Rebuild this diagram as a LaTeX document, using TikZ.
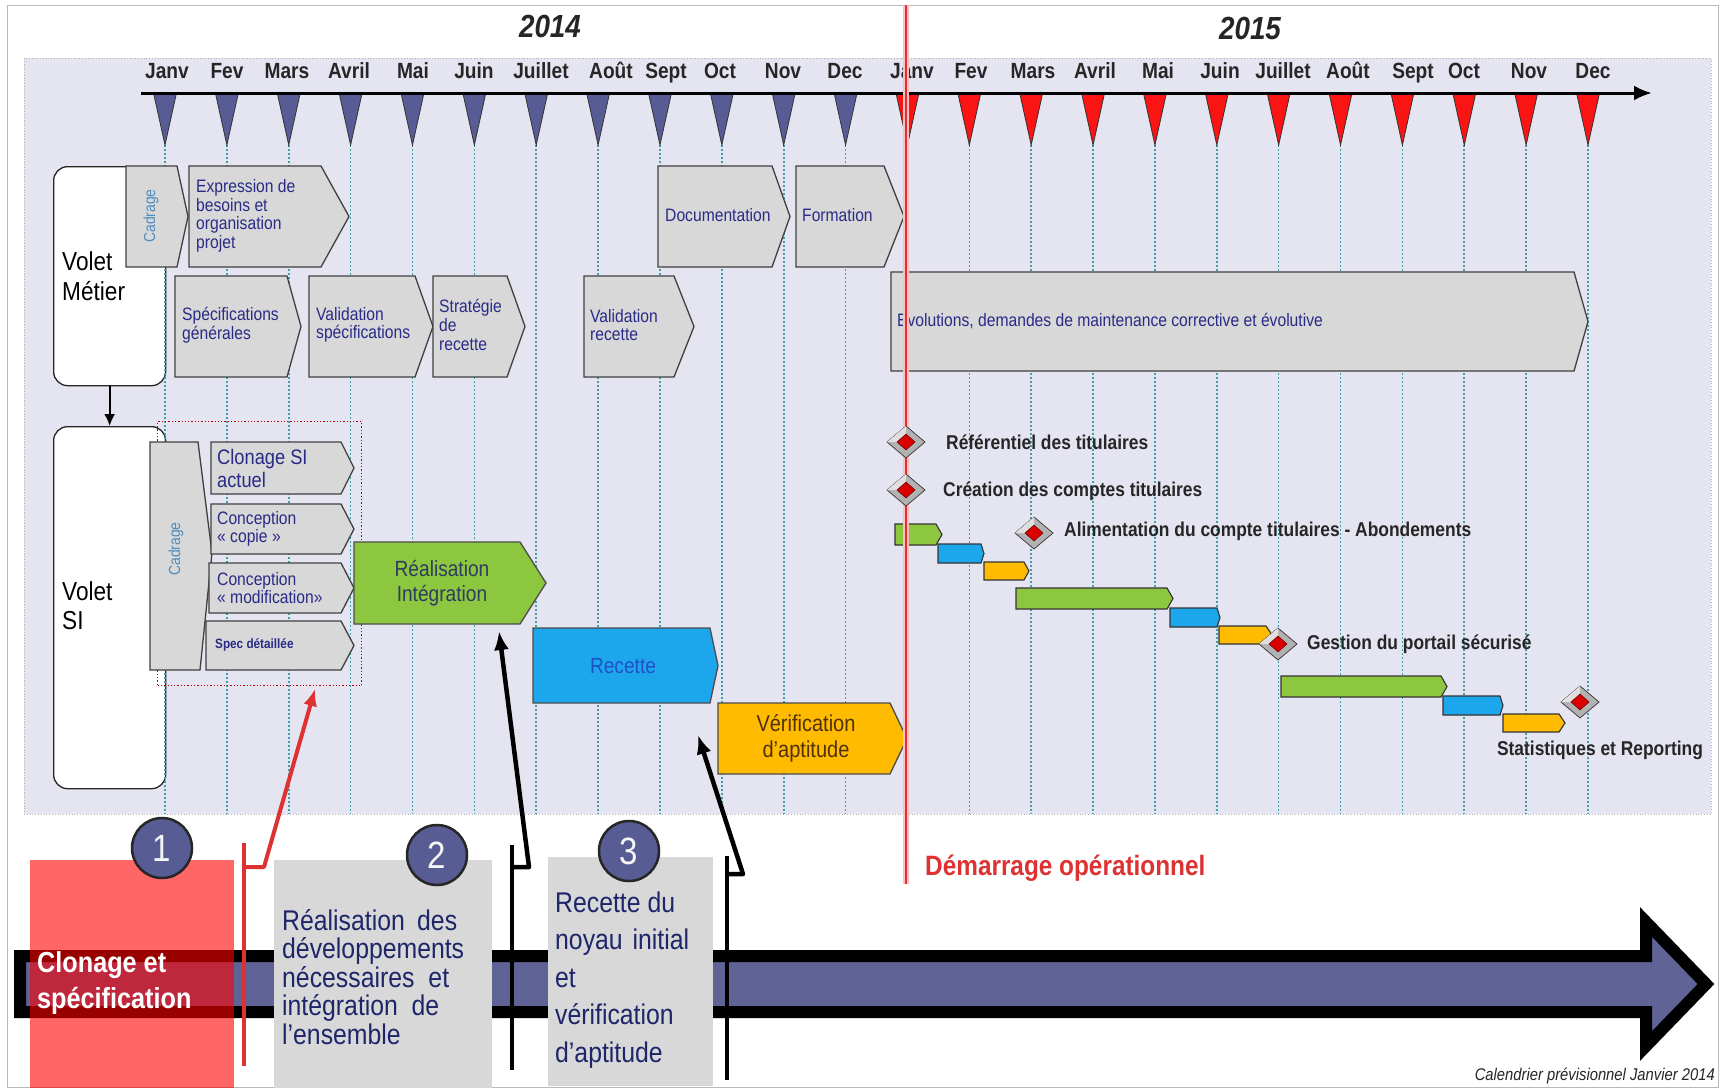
\documentclass[tikz,border=0pt]{standalone}
\usepackage{fontspec}
\setmainfont[FakeStretch=0.87]{Liberation Sans}
\usetikzlibrary{arrows.meta}
\definecolor{panel}{RGB}{229,229,242}
\definecolor{boxgray}{RGB}{216,216,216}
\definecolor{navyt}{RGB}{42,42,135}
\definecolor{navyd}{RGB}{30,38,105}
\definecolor{dotc}{RGB}{60,160,170}
\definecolor{slate}{RGB}{88,92,148}
\definecolor{mgreen}{RGB}{141,198,63}
\definecolor{mblue}{RGB}{28,167,236}
\definecolor{morange}{RGB}{255,187,0}
\definecolor{redln}{RGB}{222,50,50}
\definecolor{tred}{RGB}{250,20,20}
\definecolor{cadr}{RGB}{80,140,190}
\definecolor{arrpurple}{RGB}{95,99,150}
\newcommand\fsz[2]{\fontsize{#1}{#2}\selectfont}
\newcommand\chev[6]{\draw[#1] (#2,#3) -- ({#4-#6},#3) -- (#4,{(#3+#5)/2}) -- ({#4-#6},#5) -- (#2,#5) -- cycle;}
\newcommand\mstone[3]{\begin{scope}[shift={(#2,#3)}]
 \filldraw[fill=gray!60, draw=gray!40!black, line width=0.7] (-19,0) -- (0,-16) -- (19,0) -- (0,16) -- cycle;
 \fill[gray!25] (-19,0) -- (0,-16) -- (0,-8) -- (-9,0) -- cycle;
 \filldraw[fill=red!85!black, draw=red!40!black, line width=0.5] (-9,0) -- (0,-8) -- (9,0) -- (0,8) -- cycle;
 \coordinate (#1) at (0,0);
\end{scope}}
\tikzset{
 gbox/.style={draw=black!75, line width=1.3, fill=boxgray},
 btxt/.style={text=navyt, align=left, inner sep=0, anchor=west, font=\fsz{18}{18.6}},
 dotline/.style={draw=dotc, line width=1.6, dash pattern=on 1.6pt off 2.4pt},
 mlabel/.style={font=\bfseries\fsz{22}{24}, inner sep=0, text=black!85, text height=16pt, text depth=4pt},
 mstxt/.style={font=\bfseries\fsz{20}{21}, anchor=west, inner sep=0, text=black!85},
 bar/.style={draw=black!80, line width=1.1},
 conn/.style={line width=4.5, line join=round},
 bigtxt/.style={align=left, inner sep=0, anchor=west, text=navyd},
}
\begin{document}
\begin{tikzpicture}[x=1pt,y=-1pt]
\useasboundingbox (0,0) rectangle (1720,1088);
\fill[white] (0,0) rectangle (1720,1088);
\draw[gray!55, line width=1] (7,5) rectangle (1718,1087);
\draw[gray!60, dotted, line width=0.8, fill=panel] (24,58) rectangle (1711,814);

% years
\node[font=\bfseries\itshape\fsz{32}{34}, text=black!85] (y2014) at (550,26) {2014};
\node[font=\bfseries\itshape\fsz{32}{34}, text=black!85] (y2015) at (1250,28) {2015};

% month labels
\foreach \x/\m [count=\k] in {167/Janv,227/Fev,287/Mars,349/Avril,413/Mai,474/Juin,541/Juillet,611/Août,666/Sept,720/Oct,783/Nov,845/Dec,912/Janv,971/Fev,1033/Mars,1095/Avril,1158/Mai,1220/Juin,1283/Juillet,1348/Août,1413/Sept,1464/Oct,1529/Nov,1593/Dec}
 {\node[mlabel] (mon\k) at (\x,72) {\m};}

% Volet boxes
\node[draw=black!85, line width=1.3, fill=white, rounded corners=14pt, minimum width=112, minimum height=219, anchor=north west, inner sep=0] (vm) at (53,166) {};
\node[draw=black!85, line width=1.3, fill=white, rounded corners=14pt, minimum width=112, minimum height=362, anchor=north west, inner sep=0] (vsi) at (53,426) {};
\node[anchor=west, align=left, font=\fsz{26}{30}, inner sep=0] (vmt) at (62,276) {Volet\\Métier};
\node[anchor=west, align=left, font=\fsz{26}{29}, inner sep=0] (vsit) at (62,606) {Volet\\SI};
\draw[line width=2, -{Latex[length=12pt,width=11pt]}] (vm.south) -- (vsi.north);

% dotted month lines
\foreach \i in {0,...,23}{\pgfmathsetmacro\xx{165+61.87*\i}\draw[dotline] (\xx,145) -- (\xx,814);}
% triangles
\foreach \i in {0,...,11}{\pgfmathsetmacro\xx{165+61.87*\i}\filldraw[fill=slate, draw=black!80, line width=0.8] (\xx-11.5,93) -- (\xx+11.5,93) -- (\xx,145) -- cycle;}
\foreach \i in {12,...,23}{\pgfmathsetmacro\xx{165+61.87*\i}\filldraw[fill=tred, draw=black!80, line width=0.8] (\xx-11.5,93) -- (\xx+11.5,93) -- (\xx,145) -- cycle;}
\coordinate (ax0) at (141,93); \coordinate (ax1) at (1652,93);
\draw[line width=3, -{Latex[length=18pt,width=15pt]}] (ax0) -- (ax1);

% Volet Metier boxes
\chev{gbox}{126}{166}{188}{267}{11}
\chev{gbox}{189}{166}{349}{267}{28}
\chev{gbox}{175}{276}{301}{377}{14}
\chev{gbox}{309}{276}{433}{377}{18}
\chev{gbox}{433}{276}{525}{377}{18}
\chev{gbox}{584}{276}{694}{377}{20}
\chev{gbox}{658}{166}{790}{267}{18}
\chev{gbox}{796}{166}{904}{267}{20}
\chev{gbox}{891}{272}{1588}{371}{14}
\node[rotate=90, text=cadr, font=\fsz{16}{17}, inner sep=0] (cad1) at (151,216) {Cadrage};
\node[btxt] (t-expr) at (196,216) {Expression de\\besoins et\\organisation\\projet};
\node[btxt] (t-spg) at (182,325) {Spécifications\\générales};
\node[btxt] (t-vsp) at (316,325) {Validation\\spécifications};
\node[btxt] (t-str) at (439,325) {Stratégie\\de\\recette};
\node[btxt] (t-vre) at (590,325) {Validation\\recette};
\node[btxt] (t-doc) at (665,215) {Documentation};
\node[btxt] (t-for) at (802,215) {Formation};
\node[btxt] (t-evo) at (897,321) {Evolutions, demandes de maintenance corrective et évolutive};

% Volet SI
\node[draw=red!70!black, dotted, line width=1.3, minimum width=204, minimum height=264, anchor=north west, inner sep=0] (sel) at (157,421) {};
\draw[gbox] (150,442) -- (198,442) -- (212,553) -- (200,670) -- (150,670) -- cycle;
\node[rotate=90, text=cadr, font=\fsz{16}{17}, inner sep=0] (cad2) at (176,549) {Cadrage};
\chev{gbox}{211}{442}{354}{494}{13}
\chev{gbox}{211}{504}{354}{554}{13}
\chev{gbox}{209}{563}{354}{613}{13}
\chev{gbox}{206}{621}{354}{670}{13}
\node[btxt, font=\fsz{21}{23}] (t-clo) at (217,468) {Clonage SI\\actuel};
\node[btxt] (t-cop) at (217,529) {Conception\\« copie »};
\node[btxt] (t-mod) at (217,588) {Conception\\« modification»};
\node[btxt, font=\bfseries\fsz{13.5}{15}] (t-spd) at (215,645) {Spec détaillée};
\chev{gbox, fill=mgreen, draw=black!70}{354}{542}{546}{624}{26}
\chev{gbox, fill=mblue, draw=black!70}{533}{628}{718}{703}{8}
\chev{gbox, fill=morange, draw=black!70}{718}{703}{907}{774}{17}
\node[align=center, inner sep=0, text={rgb,255:red,45;green,60;blue,95}, font=\fsz{22}{25}] (t-rea) at (442,583) {Réalisation\\Intégration};
\node[inner sep=0, text={rgb,255:red,32;green,80;blue,200}, font=\fsz{22}{24}] (t-rec) at (623,666) {Recette};
\node[align=center, inner sep=0, text={rgb,255:red,80;green,50;blue,10}, font=\fsz{23}{26}] (t-ver) at (806,738) {Vérification\\d’aptitude};

% small gantt bars
\chev{bar, fill=mgreen}{895}{524}{942}{545}{6}
\chev{bar, fill=mblue}{938}{544}{984}{563}{3}
\chev{bar, fill=morange}{984}{562}{1029}{580}{5}
\chev{bar, fill=mgreen}{1016}{588}{1173}{609}{6}
\chev{bar, fill=mblue}{1170}{608}{1220}{627}{3}
\chev{bar, fill=morange}{1219}{626}{1272}{644}{6}
\chev{bar, fill=mgreen}{1281}{676}{1447}{697}{6}
\chev{bar, fill=mblue}{1443}{696}{1503}{715}{3}
\chev{bar, fill=morange}{1503}{714}{1565}{732}{6}

% red start line
\coordinate (rl0) at (906,5); \coordinate (rl1) at (906,884);
\draw[red!25, line width=6] (rl0) -- (rl1);
\draw[redln, line width=2.6] (rl0) -- (rl1);

% milestones
\mstone{ms1}{906}{442}
\mstone{ms2}{906}{490}
\mstone{ms3}{1034}{533}
\mstone{ms4}{1278}{644}
\mstone{ms5}{1580}{702}
\node[mstxt] (l1) at (946,442) {Référentiel des titulaires};
\node[mstxt] (l2) at (943,491) {Création des comptes titulaires};
\node[mstxt] (l3) at (1064,531) {Alimentation du compte titulaires - Abondements};
\node[mstxt] (l4) at (1307,644) {Gestion du portail sécurisé};
\node[mstxt, anchor=center] (l5) at (1600,750) {Statistiques et Reporting};

% bottom big arrow
\draw[line width=12, line join=miter, fill=arrpurple] (20,956) -- (1646,956) -- (1646,922) -- (1706,984) -- (1646,1046) -- (1646,1012) -- (20,1012) -- cycle;
\fill[red, opacity=0.6] (30,860) rectangle (234,1088);
\fill[boxgray] (274,860) rectangle (492,1088);
\fill[boxgray] (548,857) rectangle (713,1086);
\node[circle, draw=black!85, line width=2.5, fill=slate, minimum size=60, inner sep=0, text=white!92!gray, font=\fsz{38}{38}] (c1) at (162,848) {1};
\node[circle, draw=black!85, line width=2.5, fill=slate, minimum size=60, inner sep=0, text=white!92!gray, font=\fsz{38}{38}] (c2) at (437,855) {2};
\node[circle, draw=black!85, line width=2.5, fill=slate, minimum size=60, inner sep=0, text=white!92!gray, font=\fsz{38}{38}] (c3) at (629,851) {3};
\node[bigtxt, text=white, font=\bfseries\fsz{29}{36}] (t-clon) at (37,983) {Clonage et\\spécification};
\node[bigtxt, font=\fsz{28.5}{28.4}] (t-real) at (282,977) {\makebox[175pt][s]{Réalisation des}\\développements\\\makebox[167pt][s]{nécessaires et}\\\makebox[157pt][s]{intégration de}\\l’ensemble};
\node[bigtxt, font=\fsz{28.5}{37.5}] (t-rect) at (555,980) {Recette du\\\makebox[134pt][s]{noyau initial}\\et\\vérification\\d’aptitude};

% connectors
\coordinate (ra) at (244,843); \coordinate (rb) at (244,1066); \coordinate (rj) at (244,867);
\coordinate (rk) at (264,867); \coordinate (rtip) at (315,689);
\draw[conn, draw=redln, line width=4] (ra) -- (rb);
\draw[conn, draw=redln, line width=4, -{Latex[length=17pt,width=14pt]}] (rj) -- (rk) -- (rtip);
\coordinate (ba) at (512,845); \coordinate (bb) at (512,1070); \coordinate (bj) at (512,867);
\coordinate (bk) at (529,867); \coordinate (btip) at (499,631);
\draw[conn] (ba) -- (bb);
\draw[conn, -{Latex[length=19pt,width=15pt]}] (bj) -- (bk) -- (btip);
\coordinate (ca) at (727,856); \coordinate (cb) at (727,1080); \coordinate (cj) at (727,874);
\coordinate (ck) at (743,874); \coordinate (ctip) at (698,735);
\draw[conn] (ca) -- (cb);
\draw[conn, -{Latex[length=19pt,width=15pt]}] (cj) -- (ck) -- (ctip);

\node[anchor=west, inner sep=0, text=redln, font=\bfseries\fsz{28}{30}] (t-dem) at (925,868) {Démarrage opérationnel};
\node[anchor=east, inner sep=0, text=black!85, font=\itshape\fsz{17}{18}] (t-cal) at (1715,1076) {Calendrier prévisionnel Janvier 2014};
\end{tikzpicture}
\end{document}
